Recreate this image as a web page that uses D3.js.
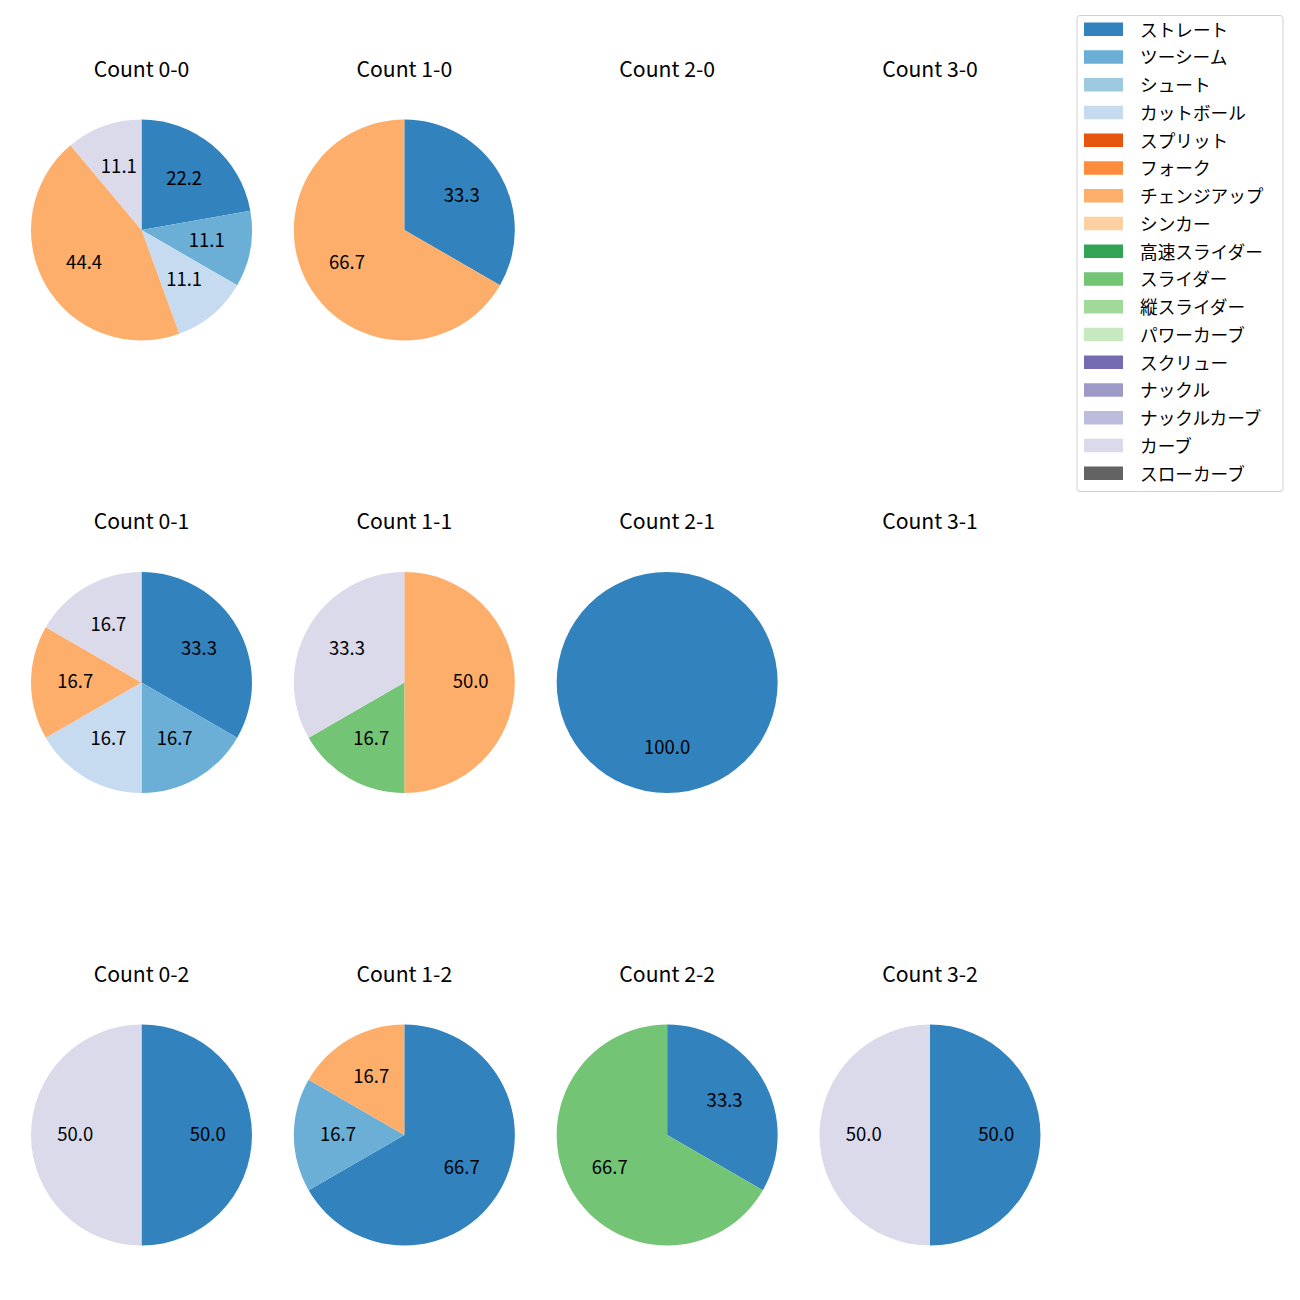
<!DOCTYPE html>
<html><head><meta charset="utf-8">
<script src="https://cdn.jsdelivr.net/npm/d3@7"></script>
<style>body{margin:0;background:#fff}</style>
</head><body>
<svg id="c" width="1300" height="1300"></svg>
<script>
const pitchTypes = ["ストレート","ツーシーム","シュート","カットボール","スプリット","フォーク","チェンジアップ","シンカー","高速スライダー","スライダー","縦スライダー","パワーカーブ","スクリュー","ナックル","ナックルカーブ","カーブ","スローカーブ"];
const pitchColors = ["#3182bd","#6baed6","#9ecae1","#c6dbef","#e6550d","#fd8d3c","#fdae6b","#fdd0a2","#31a354","#74c476","#a1d99b","#c7e9c0","#756bb1","#9e9ac8","#bcbddc","#dadaeb","#636363"];
const countTitles = ["Count 0-0","Count 1-0","Count 2-0","Count 3-0","Count 0-1","Count 1-1","Count 2-1","Count 3-1","Count 0-2","Count 1-2","Count 2-2","Count 3-2"];
// pitch counts per panel
const panel00 = [["ストレート",2],["ツーシーム",1],["カットボール",1],["チェンジアップ",4],["カーブ",1]];
const panel10 = [["ストレート",1],["チェンジアップ",2]];
const panel20 = [];
const panel30 = [];
const panel01 = [["ストレート",2],["ツーシーム",1],["カットボール",1],["チェンジアップ",1],["カーブ",1]];
const panel11 = [["チェンジアップ",3],["スライダー",1],["カーブ",2]];
const panel21 = [["ストレート",1]];
const panel31 = [];
const panel02 = [["ストレート",1],["カーブ",1]];
const panel12 = [["ストレート",4],["ツーシーム",1],["チェンジアップ",1]];
const panel22 = [["ストレート",1],["スライダー",2]];
const panel32 = [["ストレート",1],["カーブ",1]];
const panels = [panel00,panel10,panel20,panel30,panel01,panel11,panel21,panel31,panel02,panel12,panel22,panel32];

const svg = d3.select("#c");
const color = d3.scaleOrdinal().domain(pitchTypes).range(pitchColors);
const colX = d3.scalePoint().domain([0,1,2,3]).range([141.5,930]);
const rowY = d3.scalePoint().domain([0,1,2]).range([230,1135]);
const R = 110.5;
const pie = d3.pie().sort(null).value(d=>d[1]);
const arc = d3.arc().innerRadius(0).outerRadius(R);
const labelArc = d3.arc().innerRadius(R*0.6).outerRadius(R*0.6);
const FONT = "'Noto Sans CJK JP','DejaVu Sans',sans-serif";

panels.forEach((data,i)=>{
  const cx = colX(i%4), cy = rowY(Math.floor(i/4));
  const g = svg.append("g").attr("transform",`translate(${cx},${cy})`);
  g.append("text").attr("x",0).attr("y",-R-43).attr("text-anchor","middle")
    .attr("font-family",FONT).attr("font-size",21.2).attr("fill","#000").text(countTitles[i]);
  if(!data.length) return;
  const total = d3.sum(data,d=>d[1]);
  const arcs = pie(data);
  g.selectAll("path").data(arcs).enter().append("path")
    .attr("d",arc).attr("fill",d=>color(d.data[0]));
  g.selectAll("text.lbl").data(arcs).enter().append("text").attr("class","lbl")
    .attr("transform",d=>{
      if(d.endAngle-d.startAngle>=2*Math.PI-1e-9){
        return `translate(0,${R*0.6})`;
      }
      const c=labelArc.centroid(d); return `translate(${c[0]},${c[1]})`;})
    .attr("text-anchor","middle").attr("dominant-baseline","central").attr("dy",-2.5)
    .attr("font-family",FONT).attr("font-size",18.5).attr("fill","#000")
    .text(d=>(d.data[1]/total*100).toFixed(1));
});

// legend
const lg = svg.append("g");
lg.append("rect").attr("x",1077).attr("y",15.5).attr("width",206).attr("height",476)
  .attr("rx",3).attr("fill","#fff").attr("stroke","#d0d0d0").attr("stroke-width",1);
const ly = d3.scaleLinear().domain([0,pitchTypes.length-1]).range([29,473]);
pitchTypes.forEach((p,i)=>{
  lg.append("rect").attr("x",1084).attr("y",ly(i)-6.5).attr("width",39).attr("height",13.5).attr("fill",color(p));
  lg.append("text").attr("x",1140).attr("y",ly(i)).attr("dominant-baseline","central")
    .attr("font-family",FONT).attr("font-size",17.65).attr("fill","#000").text(p);
});
</script>
</body></html>
